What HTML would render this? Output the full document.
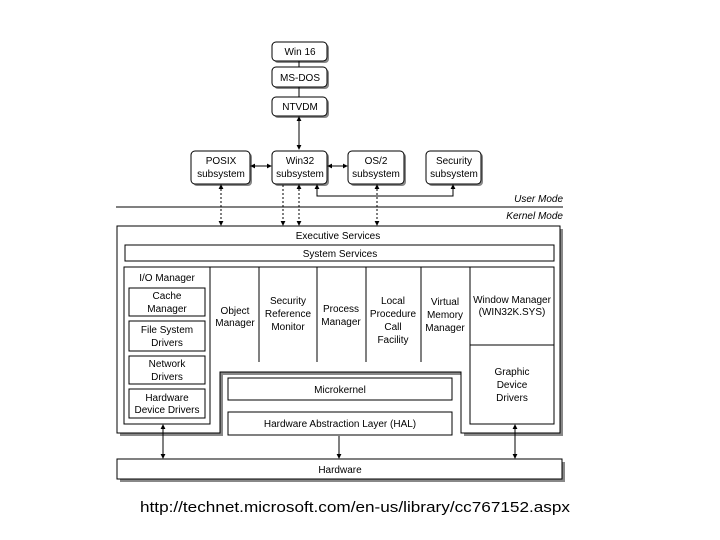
<!DOCTYPE html>
<html><head><style>html,body{margin:0;padding:0;background:#fff}svg{display:block}</style></head><body>
<svg width="720" height="540" viewBox="0 0 720 540" xmlns="http://www.w3.org/2000/svg" font-family="Liberation Sans, sans-serif" font-size="10">
<defs>
<marker id="a" viewBox="0 0 6 6" refX="5" refY="3" markerWidth="5" markerHeight="5" orient="auto-start-reverse"><path d="M0,0L6,3L0,6z" fill="#000"/></marker>
</defs>
<g fill="#888">
<rect x="274" y="44" width="55" height="19" rx="4"/>
<rect x="274" y="69" width="55" height="20" rx="4"/>
<rect x="274" y="99" width="55" height="19" rx="4"/>
<rect x="193" y="153" width="59" height="33" rx="4"/>
<rect x="274" y="153" width="55" height="33" rx="4"/>
<rect x="350" y="153" width="56" height="33" rx="4"/>
<rect x="428" y="153" width="55" height="33" rx="4"/>
<path d="M120,229H563V436H464V375H223V436H120z"/>
<rect x="120" y="462" width="445" height="20"/>
</g>
<g fill="#fff" stroke="#000" stroke-width="1">
<rect x="272" y="42" width="55" height="19" rx="4"/>
<rect x="272" y="67" width="55" height="20" rx="4"/>
<rect x="272" y="97" width="55" height="19" rx="4"/>
<rect x="191" y="151" width="59" height="33" rx="4"/>
<rect x="272" y="151" width="55" height="33" rx="4"/>
<rect x="348" y="151" width="56" height="33" rx="4"/>
<rect x="426" y="151" width="55" height="33" rx="4"/>
<path d="M117,226H560V433H461V372H220V433H117z"/>
<rect x="125" y="245" width="429" height="16"/>
<rect x="124" y="267" width="86" height="157"/>
<rect x="129" y="288" width="76" height="28"/>
<rect x="129" y="321" width="76" height="30"/>
<rect x="129" y="356" width="76" height="28"/>
<rect x="129" y="389" width="76" height="29"/>
<rect x="470" y="267" width="84" height="157"/>
<rect x="228" y="378" width="224" height="22"/>
<rect x="228" y="412" width="224" height="23"/>
<rect x="117" y="459" width="445" height="20"/>
</g>
<g stroke="#000" fill="none">
<path d="M299,61V67M299,87V97"/>
<path d="M210,267H470M259,267V362M317,267V362M366,267V362M421,267V362M470,345H554"/>
<path d="M116,207H563"/>
<path d="M299,117V149" marker-start="url(#a)" marker-end="url(#a)"/>
<path d="M251,166H271" marker-start="url(#a)" marker-end="url(#a)"/>
<path d="M328,166H347" marker-start="url(#a)" marker-end="url(#a)"/>
<path d="M317,185V196H453V185" marker-start="url(#a)" marker-end="url(#a)"/>
<g stroke-dasharray="2,2">
<path d="M221,185V225" marker-start="url(#a)" marker-end="url(#a)"/>
<path d="M283,185V225" marker-end="url(#a)"/>
<path d="M299,185V225" marker-start="url(#a)" marker-end="url(#a)"/>
<path d="M377,185V225" marker-start="url(#a)" marker-end="url(#a)"/>
</g>
<path d="M163,425V458" marker-start="url(#a)" marker-end="url(#a)"/>
<path d="M339,436V458" marker-end="url(#a)"/>
<path d="M515,425V458" marker-start="url(#a)" marker-end="url(#a)"/>
</g>
<g text-anchor="middle" fill="#000">
<text x="300" y="55">Win 16</text>
<text x="300" y="81">MS-DOS</text>
<text x="300" y="110">NTVDM</text>
<text x="221" y="164">POSIX</text><text x="221" y="177">subsystem</text>
<text x="300" y="164">Win32</text><text x="300" y="177">subsystem</text>
<text x="376" y="164">OS/2</text><text x="376" y="177">subsystem</text>
<text x="454" y="164">Security</text><text x="454" y="177">subsystem</text>
<text x="338" y="239">Executive Services</text>
<text x="340" y="257">System Services</text>
<text x="167" y="281">I/O Manager</text>
<text x="167" y="299">Cache</text><text x="167" y="312">Manager</text>
<text x="167" y="333">File System</text><text x="167" y="346">Drivers</text>
<text x="167" y="367">Network</text><text x="167" y="380">Drivers</text>
<text x="167" y="401">Hardware</text><text x="167" y="413">Device Drivers</text>
<text x="235" y="314">Object</text><text x="235" y="326">Manager</text>
<text x="288" y="304">Security</text><text x="288" y="317">Reference</text><text x="288" y="330">Monitor</text>
<text x="341" y="312">Process</text><text x="341" y="325">Manager</text>
<text x="393" y="304">Local</text><text x="393" y="317">Procedure</text><text x="393" y="330">Call</text><text x="393" y="343">Facility</text>
<text x="445" y="305">Virtual</text><text x="445" y="318">Memory</text><text x="445" y="331">Manager</text>
<text x="512" y="303">Window Manager</text><text x="512" y="315">(WIN32K.SYS)</text>
<text x="512" y="375">Graphic</text><text x="512" y="388">Device</text><text x="512" y="401">Drivers</text>
<text x="340" y="393">Microkernel</text>
<text x="340" y="427">Hardware Abstraction Layer (HAL)</text>
<text x="340" y="473">Hardware</text>
</g>
<g font-style="italic" text-anchor="end">
<text x="563" y="202">User Mode</text>
<text x="563" y="219">Kernel Mode</text>
</g>
<text x="140" y="512" font-size="15" textLength="430" lengthAdjust="spacingAndGlyphs">http://technet.microsoft.com/en-us/library/cc767152.aspx</text>
</svg>
</body></html>
